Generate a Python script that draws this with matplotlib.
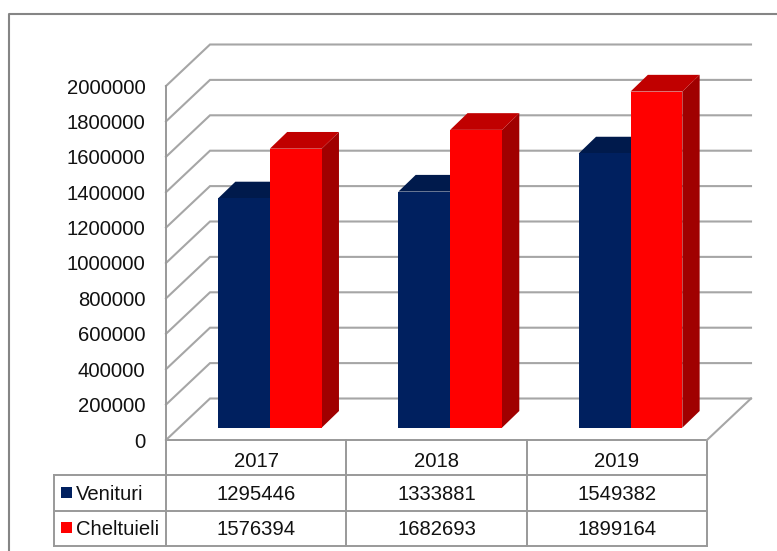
import matplotlib
matplotlib.use("Agg")
import matplotlib.pyplot as plt
from matplotlib.patches import Polygon, Rectangle

plt.rcParams['font.family'] = ['Liberation Sans', 'DejaVu Sans']

years = ['2017', '2018', '2019']
venituri = [1295446, 1333881, 1549382]
cheltuieli = [1576394, 1682693, 1899164]
y_ticks = [0, 200000, 400000, 600000, 800000, 1000000, 1200000, 1400000, 1600000, 1800000, 2000000]
series_names = ['Venituri', 'Cheltuieli']

W, H = 777, 551
L, R, T, B = 166, 707, 86, 440

fig = plt.figure(figsize=(W / 100, H / 100), dpi=100)

# overlay in pixel units for the outer frame and the data table
bg = fig.add_axes([0, 0, 1, 1])
bg.set_xlim(0, W)
bg.set_ylim(H, 0)
bg.axis('off')
frame_c = '#858585'
line_c = '#999999'
bg.plot([8.5, 8.5, W], [H, 14, 14], color=frame_c, lw=1.5)
for y, x0 in [(B, L), (475, 54), (511, 54), (546, 54)]:
    bg.plot([x0, R], [y, y], color=line_c, lw=1.4)
bg.plot([54, 54], [475, 546], color=line_c, lw=1.4)
for x in [165.5, 346, 527, 707]:
    bg.plot([x, x], [B, 546], color=line_c, lw=1.4)

ax = fig.add_axes([L / W, 1 - B / H, (R - L) / W, (B - T) / H])
ax.set_xlim(0, 3)
ax.set_ylim(0, 2000000)
ax.patch.set_alpha(0)
for s in ['top', 'right', 'bottom']:
    ax.spines[s].set_visible(False)
ax.spines['left'].set_color(line_c)
ax.spines['left'].set_linewidth(1.4)

ux = 3 / (R - L)            # axis units per pixel
uy = 2000000 / (B - T)
wall_dx, wall_dy = 44 * ux, 41.5 * uy
for v in y_ticks:
    ax.plot([0, wall_dx, 3 + wall_dx], [v, v + wall_dy, v + wall_dy],
            color='#a6a6a6', lw=1.5, clip_on=False, zorder=1, solid_joinstyle='miter')
ax.plot([3, 3 + wall_dx], [0, wall_dy], color='#a6a6a6', lw=1.5, clip_on=False, zorder=1)


def bar3d(x0, width, v, front, top, side):
    sx, sy = 13.7 * ux, 12.3 * uy    # bar stands a bit behind the front plane
    dx, dy = 17.3 * ux, 16.7 * uy    # bar depth
    x0 = x0 + sx
    x1 = x0 + width
    h = v + sy
    ax.add_patch(Polygon([(x1, sy), (x1 + dx, sy + dy), (x1 + dx, h + dy), (x1, h)],
                         fc=side, ec='none', clip_on=False, zorder=3))
    ax.add_patch(Polygon([(x0, h), (x0 + dx, h + dy), (x1 + dx, h + dy), (x1, h)],
                         fc=top, ec='none', clip_on=False, zorder=3))
    ax.add_patch(Rectangle((x0, sy), width, v, fc=front, ec='none', clip_on=False, zorder=3))


bar_w = 51.8 * ux
for i in range(len(years)):
    bar3d(i + 0.5 - bar_w, bar_w, venituri[i], '#00205f', '#001a4c', '#001a4c')
    bar3d(i + 0.5, bar_w, cheltuieli[i], '#ff0000', '#c00000', '#a00000')

ax.set_yticks(y_ticks)
ax.set_yticklabels([str(v) for v in y_ticks], fontsize=14.6, color='#111111')
ax.set_xticks([i + 0.5 for i in range(len(years))])
ax.set_xticklabels(years, fontsize=14.6, color='#111111')
ax.tick_params(axis='y', length=0, pad=14.7)
ax.tick_params(axis='x', length=0, pad=8.5)

# data table
cols = [256, 436.5, 617]
for row_y, vals, name, col in zip([493, 528], [venituri, cheltuieli], series_names, ['#00205f', '#ff0000']):
    bg.add_patch(Rectangle((61, row_y - 6), 10.5, 11, fc=col, ec='none'))
    bg.text(76, row_y + 1.5, name, fontsize=14.6, va='center', ha='left', color='#111111')
    for x, v in zip(cols, vals):
        bg.text(x, row_y + 1.5, str(v), fontsize=14.6, va='center', ha='center', color='#111111')

fig.savefig('out.png', dpi=100)
plt.close()
